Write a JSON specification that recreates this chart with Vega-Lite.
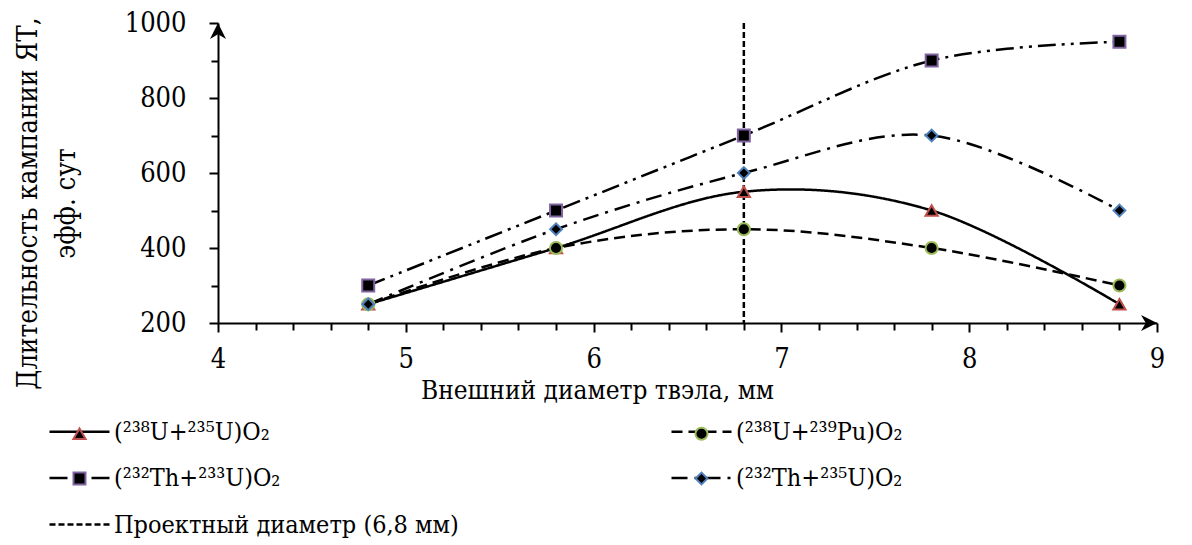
{
  "$schema": "https://vega.github.io/schema/vega-lite/v6.json",
  "width": 939,
  "height": 300,
  "autosize": {"type": "none"},
  "padding": {"left": 218, "top": 23, "right": 35, "bottom": 222},
  "background": "white",
  "config": {
    "view": {"stroke": null},
    "font": "DejaVu Serif Condensed, DejaVu Serif, serif",
    "legend": {"labelFont": "DejaVu Serif Condensed, DejaVu Serif, serif", "labelColor": "black", "labelLimit": 1000, "padding": 0}
  },
  "datasets": {
    "points": [
      {"series": "(²³⁸U+²³⁵U)O₂", "d": 4.8, "t": 250},
      {"series": "(²³⁸U+²³⁵U)O₂", "d": 5.8, "t": 400},
      {"series": "(²³⁸U+²³⁵U)O₂", "d": 6.8, "t": 550},
      {"series": "(²³⁸U+²³⁵U)O₂", "d": 7.8, "t": 500},
      {"series": "(²³⁸U+²³⁵U)O₂", "d": 8.8, "t": 250},
      {"series": "(²³⁸U+²³⁹Pu)O₂", "d": 4.8, "t": 250},
      {"series": "(²³⁸U+²³⁹Pu)O₂", "d": 5.8, "t": 400},
      {"series": "(²³⁸U+²³⁹Pu)O₂", "d": 6.8, "t": 450},
      {"series": "(²³⁸U+²³⁹Pu)O₂", "d": 7.8, "t": 400},
      {"series": "(²³⁸U+²³⁹Pu)O₂", "d": 8.8, "t": 300},
      {"series": "(²³²Th+²³³U)O₂", "d": 4.8, "t": 300},
      {"series": "(²³²Th+²³³U)O₂", "d": 5.8, "t": 500},
      {"series": "(²³²Th+²³³U)O₂", "d": 6.8, "t": 700},
      {"series": "(²³²Th+²³³U)O₂", "d": 7.8, "t": 900},
      {"series": "(²³²Th+²³³U)O₂", "d": 8.8, "t": 950},
      {"series": "(²³²Th+²³⁵U)O₂", "d": 4.8, "t": 250},
      {"series": "(²³²Th+²³⁵U)O₂", "d": 5.8, "t": 450},
      {"series": "(²³²Th+²³⁵U)O₂", "d": 6.8, "t": 600},
      {"series": "(²³²Th+²³⁵U)O₂", "d": 7.8, "t": 700},
      {"series": "(²³²Th+²³⁵U)O₂", "d": 8.8, "t": 500}
    ],
    "design": [
      {"series": "Проектный диаметр (6,8 мм)", "d": 6.8, "t": 1000, "t2": 200}
    ]
  },
  "encoding": {
    "x": {
      "field": "d", "type": "quantitative",
      "scale": {"domain": [4, 9], "nice": false, "zero": false},
      "axis": {
        "values": [4, 4.2, 4.4, 4.6, 4.8, 5, 5.2, 5.4, 5.6, 5.8, 6, 6.2, 6.4, 6.6, 6.8, 7, 7.2, 7.4, 7.6, 7.8, 8, 8.2, 8.4, 8.6, 8.8, 9],
        "labelExpr": "abs(datum.value - round(datum.value)) < 0.001 ? toString(round(datum.value)) : ''",
        "labelOverlap": false, "labelFlush": false, "labelBound": false,
        "labelFont": "DejaVu Serif Condensed, DejaVu Serif, serif", "labelFontSize": 27, "labelColor": "black",
        "labelBaseline": "alphabetic", "labelPadding": 35,
        "tickSize": {"condition": {"test": "abs(datum.value - round(datum.value)) < 0.001", "value": 9}, "value": 7},
        "tickColor": "black", "tickWidth": 2, "domainColor": "black", "domainWidth": 2,
        "grid": false,
        "title": "Внешний диаметр твэла, мм",
        "titleFont": "DejaVu Serif Condensed, DejaVu Serif, serif", "titleFontSize": 26, "titleFontWeight": "normal", "titleColor": "black",
        "titleX": 379, "titleY": 75, "titleBaseline": "alphabetic", "titleAlign": "center"
      }
    },
    "y": {
      "field": "t", "type": "quantitative",
      "scale": {"domain": [200, 1000], "nice": false, "zero": false},
      "axis": {
        "values": [200, 300, 400, 500, 600, 700, 800, 900, 1000],
        "labelExpr": "datum.value % 200 === 0 ? toString(datum.value) : ''",
        "labelOverlap": false, "labelFlush": false, "labelBound": false,
        "labelFont": "DejaVu Serif Condensed, DejaVu Serif, serif", "labelFontSize": 27, "labelColor": "black",
        "labelPadding": 23,
        "tickSize": {"condition": {"test": "datum.value % 200 === 0", "value": 9}, "value": 7},
        "tickColor": "black", "tickWidth": 2, "domainColor": "black", "domainWidth": 2,
        "grid": false,
        "title": ["Длительность кампании ЯТ,", "эфф. сут"],
        "titleFont": "DejaVu Serif Condensed, DejaVu Serif, serif", "titleFontSize": 27.5, "titleFontWeight": "normal", "titleColor": "black",
        "titleAngle": -90, "titleX": -182, "titleY": 180, "titleBaseline": "alphabetic", "titleAlign": "center",
        "titleLineHeight": 38
      }
    }
  },
  "layer": [
    {
      "data": {"name": "design"},
      "mark": {"type": "rule", "color": "black", "strokeWidth": 2.5},
      "encoding": {
        "y2": {"field": "t2"},
        "strokeDash": {
          "field": "series", "type": "nominal",
          "scale": {
            "domain": ["(²³⁸U+²³⁵U)O₂", "(²³⁸U+²³⁹Pu)O₂", "(²³²Th+²³³U)O₂", "(²³²Th+²³⁵U)O₂", "Проектный диаметр (6,8 мм)"],
            "range": [[1, 0], [11, 6], [18, 6, 3, 6, 3, 6], [16, 7, 3, 7], [6, 3]]
          },
          "legend": {
            "title": null, "orient": "none", "legendX": -170, "legendY": 396,
            "direction": "horizontal", "columns": 2, "columnPadding": 207, "rowPadding": 20.5,
            "symbolType": "M-3,0H3", "symbolSize": 400, "symbolOffset": 19,
            "symbolStrokeColor": "black", "symbolStrokeWidth": 2.5, "symbolFillColor": "transparent",
            "labelOffset": 22, "labelFontSize": 25, "labelColor": "black",
            "labelLimit": 1000
          }
        }
      }
    },
    {
      "data": {"name": "points"},
      "mark": {"type": "line", "color": "black", "strokeWidth": 2.5, "interpolate": "cardinal", "tension": 0},
      "encoding": {
        "strokeDash": {"field": "series", "type": "nominal"}
      }
    },
    {
      "data": {"name": "points"},
      "mark": {"type": "point", "filled": true, "strokeWidth": 2, "opacity": 1},
      "encoding": {
        "shape": {
          "field": "series", "type": "nominal",
          "scale": {"domain": ["(²³⁸U+²³⁵U)O₂", "(²³⁸U+²³⁹Pu)O₂", "(²³²Th+²³³U)O₂", "(²³²Th+²³⁵U)O₂"], "range": ["triangle-up", "circle", "square", "diamond"]},
          "legend": {
            "title": null, "orient": "none", "legendX": -170, "legendY": 398,
            "direction": "horizontal", "columns": 2, "columnPadding": 578, "rowPadding": 19,
            "symbolOffset": 19, "symbolStrokeWidth": 2,
            "labelOffset": 0, "labelFontSize": 25, "labelExpr": "''", "labelLimit": 1000
          }
        },
        "fill": {
          "field": "series", "type": "nominal",
          "scale": {"domain": ["(²³⁸U+²³⁵U)O₂", "(²³⁸U+²³⁹Pu)O₂", "(²³²Th+²³³U)O₂", "(²³²Th+²³⁵U)O₂"], "range": ["black", "black", "black", "black"]},
          "legend": {
            "title": null, "orient": "none", "legendX": -170, "legendY": 398,
            "direction": "horizontal", "columns": 2, "columnPadding": 578, "rowPadding": 19,
            "symbolOffset": 19, "symbolStrokeWidth": 2,
            "labelOffset": 0, "labelFontSize": 25, "labelExpr": "''", "labelLimit": 1000
          }
        },
        "stroke": {
          "field": "series", "type": "nominal",
          "scale": {"domain": ["(²³⁸U+²³⁵U)O₂", "(²³⁸U+²³⁹Pu)O₂", "(²³²Th+²³³U)O₂", "(²³²Th+²³⁵U)O₂"], "range": ["#c0504d", "#9bbb59", "#8064a2", "#4f81bd"]},
          "legend": {
            "title": null, "orient": "none", "legendX": -170, "legendY": 398,
            "direction": "horizontal", "columns": 2, "columnPadding": 578, "rowPadding": 19,
            "symbolOffset": 19, "symbolStrokeWidth": 2,
            "labelOffset": 0, "labelFontSize": 25, "labelExpr": "''", "labelLimit": 1000
          }
        },
        "size": {
          "field": "series", "type": "nominal",
          "scale": {"domain": ["(²³⁸U+²³⁵U)O₂", "(²³⁸U+²³⁹Pu)O₂", "(²³²Th+²³³U)O₂", "(²³²Th+²³⁵U)O₂"], "range": [150, 140, 170, 40]},
          "legend": {
            "title": null, "orient": "none", "legendX": -170, "legendY": 398,
            "direction": "horizontal", "columns": 2, "columnPadding": 578, "rowPadding": 19,
            "symbolOffset": 19, "symbolStrokeWidth": 2,
            "labelOffset": 0, "labelFontSize": 25, "labelExpr": "''", "labelLimit": 1000
          }
        }
      }
    },
    {
      "data": {"values": [{"d": 9, "t": 200}]},
      "mark": {"type": "point", "filled": true, "color": "black", "opacity": 1, "size": 256, "shape": "M0,0L-2,-1L-1.4,0L-2,1Z"}
    },
    {
      "data": {"values": [{"d": 4, "t": 1000}]},
      "mark": {"type": "point", "filled": true, "color": "black", "opacity": 1, "size": 256, "shape": "M0,0L1,2L0,1.4L-1,2Z"}
    }
  ]
}
